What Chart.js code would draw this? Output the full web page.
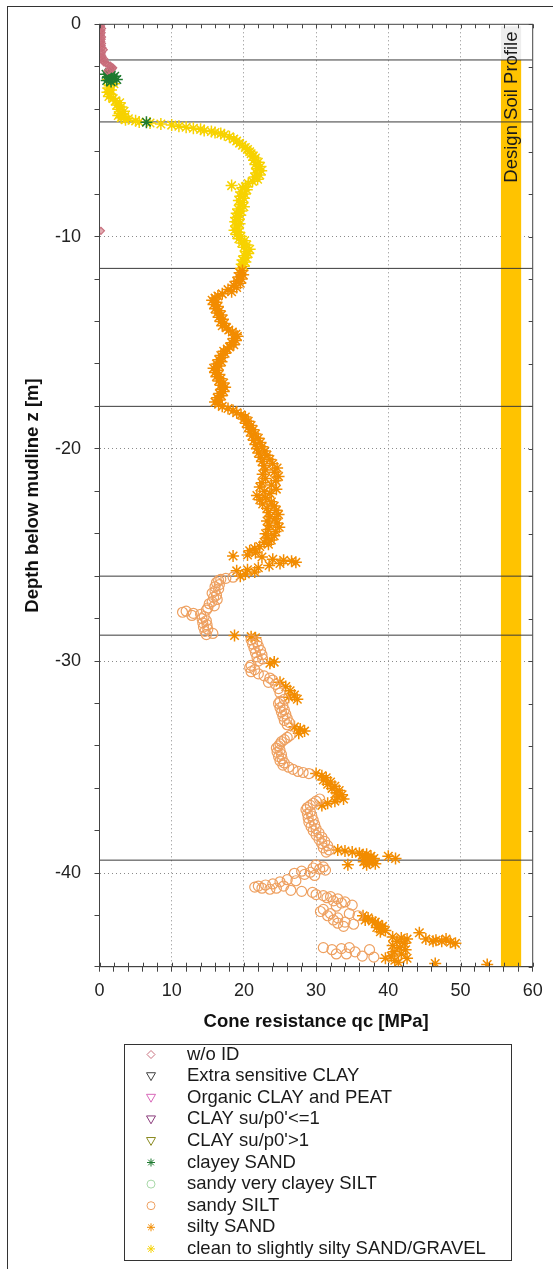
<!DOCTYPE html>
<html>
<head>
<meta charset="utf-8">
<script src="https://cdn.jsdelivr.net/npm/chart.js"></script>
<style>
  body { margin: 0; background: #fff; }
  #wrap { width: 553px; height: 1269px; position: relative; }
</style>
</head>
<body>
<div id="wrap"><canvas id="myChart"></canvas></div>
<script>
// soil classes, in legend order
const soilClasses = ['w/o ID', 'Extra sensitive CLAY', 'Organic CLAY and PEAT', "CLAY su/p0'<=1", "CLAY su/p0'>1",
	'clayey SAND', 'sandy very clayey SILT', 'sandy SILT', 'silty SAND', 'clean to slightly silty SAND/GRAVEL'];
const classColors = ['#c8707e', '#404040', '#d866b8', '#8a3a7a', '#8a8a20',
	'#1f7a30', '#a8d8a8', '#eea060', '#f28c00', '#f7d200'];
const classStyles = ['rectRot', 'triangle', 'triangle', 'triangle', 'triangle',
	'star', 'circle', 'circle', 'star', 'star'];

// [depth z (m), qc (MPa)]
const noId = [[0,0.3],[0.1,0.2],[0.2,0.35],[0.3,0.25],[0.4,0.3],[0.5,0.2],[0.6,0.35],[0.7,0.3],[0.8,0.25],[0.9,0.35],
	[1.0,0.3],[1.1,0.4],[1.2,0.6],[1.3,0.35],[1.4,0.3],[1.5,0.4],[1.6,0.35],[1.65,0.7],[1.7,0.45],[1.8,0.6],
	[1.85,0.9],[1.9,1.2],[1.95,1.5],[2.0,1.7],[2.05,1.9],[2.1,1.8],[2.15,1.4],[2.2,1.1],[9.73,0.2]];
const extraSensitiveClay = [];
const organicClay = [];
const claySoft = [];
const clayStiff = [];
const clayeySand = [[2.3,1.3],[2.35,0.9],[2.4,1.6],[2.45,2.1],[2.5,1.2],[2.55,1.8],[2.6,2.4],[2.65,1.0],[2.7,1.6],[4.61,6.5]];
const sandyClayeySilt = [];
const sandySilt = [
	[26.05,18.5],[26.1,17.5],[26.15,16.8],[26.2,16.5],[26.3,16.2],[26.4,16.6],[26.5,16.0],[26.6,16.5],[26.7,16.0],[26.8,15.6],
	[26.9,16.2],[27.0,15.8],[27.1,16.3],[27.2,15.6],[27.3,15.2],[27.4,15.9],[27.5,15.0],[27.6,14.8],[27.65,12.0],[27.7,11.5],
	[27.75,13.0],[27.8,14.0],[27.85,12.8],[27.9,14.5],[28.0,14.2],[28.1,14.8],[28.2,14.3],[28.3,14.9],[28.4,14.4],[28.5,15.0],
	[28.6,14.6],[28.7,15.7],[28.75,14.8],
	[29.0,21.0],[29.1,21.8],[29.2,21.2],[29.3,22.0],[29.4,21.4],[29.5,22.3],[29.6,21.6],[29.7,22.5],[29.8,21.8],[29.9,22.6],
	[30.0,22.0],[30.2,21.0],[30.3,20.8],[30.4,21.5],[30.5,21.0],[30.6,22.0],[30.7,22.8],[30.8,23.6],[30.9,24.0],[31.0,23.4],
	[31.1,24.4],[31.3,24.8],[31.5,25.0],[31.8,25.6],[31.9,25.0],[32.0,24.8],[32.1,25.4],[32.2,25.0],[32.3,25.6],[32.4,25.2],
	[32.5,25.8],[32.6,25.4],[32.7,26.0],[32.8,25.6],[32.9,26.3],[33.0,26.0],[33.5,26.4],[33.6,26.0],[33.7,25.6],[33.8,25.2],
	[33.9,25.0],[34.0,24.8],[34.1,24.5],[34.2,25.0],[34.3,24.6],[34.4,25.2],[34.5,24.8],[34.6,25.3],[34.7,25.0],[34.8,25.6],
	[34.9,25.4],[35.0,26.2],[35.1,26.8],[35.2,27.5],[35.25,28.2],[35.3,29.0],
	[36.5,30.5],[36.6,30.0],[36.7,29.6],[36.8,29.2],[36.9,28.8],[37.0,28.6],[37.1,29.2],[37.2,28.8],[37.3,29.4],[37.4,28.9],
	[37.5,29.6],[37.6,29.0],[37.7,29.8],[37.8,29.3],[37.9,30.0],[38.0,29.6],[38.1,30.4],[38.2,30.0],[38.3,30.8],[38.4,30.4],
	[38.5,31.2],[38.6,30.8],[38.7,31.6],[38.8,31.0],[38.9,31.8],[39.0,31.4],
	[39.6,30.0],[39.7,31.0],[39.75,29.6],[39.8,30.5],[39.85,31.3],[39.9,28.0],[39.95,29.2],[40.0,27.0],[40.05,28.4],[40.1,29.8],
	[40.3,26.0],[40.35,27.2],[40.4,25.0],[40.5,24.0],[40.55,23.0],[40.6,22.0],[40.65,21.5],[40.7,22.5],[40.75,23.6],[40.7,24.5],
	[40.6,25.5],[40.8,26.5],[40.85,28.0],[40.9,29.5],
	[41.0,30.0],[41.05,31.0],[41.1,32.0],[41.15,31.5],[41.2,33.0],[41.3,32.4],[41.35,34.0],[41.4,33.5],[41.5,35.0],[41.55,32.8],
	[41.7,31.0],[41.8,30.6],[41.9,32.0],[42.0,31.6],[42.1,33.0],[42.2,32.4],[42.3,34.0],[42.35,33.0],[42.4,35.2],[42.5,33.8],
	[41.9,34.6],[42.0,35.8],
	[43.5,31.0],[43.6,32.2],[43.55,33.5],[43.5,34.6],[43.7,35.4],[43.8,34.2],[43.9,36.4],[43.6,37.4],[43.95,38.0],[43.8,32.8]];
const siltySand = [
	[11.6,19.8],[11.7,19.4],[11.8,19.9],[11.9,19.3],[12.0,19.7],[12.1,19.0],[12.2,19.5],[12.3,18.6],[12.4,19.0],[12.5,17.8],
	[12.6,18.3],[12.7,17.0],[12.8,16.4],[12.9,16.0],[13.0,15.6],[13.1,16.2],[13.2,15.8],[13.3,16.4],[13.4,16.0],[13.5,16.6],
	[13.6,16.3],[13.7,16.9],[13.8,16.5],[13.9,17.1],[14.0,16.8],[14.1,17.3],[14.2,17.0],[14.3,17.6],[14.4,17.9],[14.5,18.4],
	[14.6,18.9],[14.7,19.1],[14.8,18.6],[14.9,18.9],[15.0,18.3],[15.1,18.6],[15.2,18.0],[15.3,17.7],[15.4,17.2],[15.5,17.4],
	[15.6,16.8],[15.7,17.0],[15.8,16.5],[15.9,16.9],[16.0,16.2],[16.1,16.6],[16.2,15.8],[16.3,16.3],[16.4,16.0],[16.5,16.6],
	[16.6,16.2],[16.7,16.8],[16.8,16.5],[16.9,17.2],[17.0,16.8],[17.1,17.4],[17.2,16.9],[17.3,17.2],[17.4,16.6],[17.5,16.9],
	[17.6,16.3],[17.7,16.6],[17.8,16.0],[17.9,16.5],[18.0,17.0],[18.1,17.8],[18.2,18.5],[18.3,19.0],[18.4,19.6],[18.5,20.2],
	[18.6,20.0],[18.7,20.6],[18.8,20.3],[18.9,21.0],[19.0,20.6],[19.1,21.3],[19.2,20.9],[19.3,21.6],[19.4,21.1],[19.5,22.0],
	[19.6,21.4],[19.7,22.3],[19.8,21.6],[19.9,22.5],[20.0,21.8],[20.1,22.9],[20.2,22.0],[20.3,23.2],[20.4,22.3],[20.5,23.6],
	[20.6,22.5],[20.7,24.0],[20.8,22.8],[20.9,24.6],[21.0,23.0],[21.1,24.2],[21.2,22.6],[21.3,24.8],[21.4,23.0],[21.5,24.4],
	[21.6,22.5],[21.7,23.8],[21.8,22.2],[21.9,24.5],[22.0,22.8],[22.1,23.6],[22.2,21.8],[22.3,23.0],[22.4,22.2],[22.5,23.8],
	[22.6,22.6],[22.7,24.2],[22.8,23.2],[22.9,24.5],[23.0,23.4],[23.1,24.8],[23.2,23.6],[23.3,24.3],[23.4,23.2],[23.5,24.6],
	[23.6,23.5],[23.7,24.9],[23.8,23.4],[23.9,24.4],[24.0,23.0],[24.1,24.2],[24.2,23.2],[24.3,23.8],[24.4,22.8],[24.5,23.4],
	[24.6,22.2],[24.7,21.5],[24.8,20.8],[24.9,21.6],[25.0,20.5],[25.05,18.5],[25.1,22.5],[25.2,24.0],[25.25,25.5],[25.3,26.6],
	[25.35,27.2],[25.4,25.0],[25.5,23.5],[25.6,22.0],[25.7,20.5],[25.75,19.0],[25.8,21.5],[25.9,20.2],[26.0,19.5],
	[28.8,18.7],[28.85,21.0],[28.9,21.6],[30.05,24.2],[30.1,23.6],[31.0,25.0],[31.2,25.8],[31.4,26.4],[31.6,27.0],[31.7,26.2],
	[31.8,27.4],[33.1,27.0],[33.2,27.8],[33.3,28.4],[33.4,27.6],
	[35.3,30.0],[35.4,30.8],[35.5,31.4],[35.6,31.0],[35.7,32.0],[35.8,31.6],[35.9,32.6],[36.0,32.2],[36.1,33.2],[36.2,32.8],
	[36.3,33.6],[36.4,33.0],[36.5,33.8],[36.6,32.6],[36.7,31.6],[36.8,30.8],
	[38.9,33.0],[38.95,34.0],[39.0,35.0],[39.05,36.0],[39.1,37.0],[39.15,36.4],[39.2,37.6],[39.25,36.8],[39.3,38.0],[39.35,37.2],
	[39.4,37.8],[39.45,36.6],[39.5,37.4],[39.55,38.2],[39.6,37.0],[39.2,40.0],[39.3,41.0],[39.6,34.4],
	[42.0,36.5],[42.1,37.2],[42.2,36.8],[42.25,37.8],[42.3,38.2],[42.4,38.6],[42.5,39.2],[42.55,38.4],[42.6,39.0],[42.7,39.6],
	[42.75,38.9],[42.8,44.3],[43.1,45.2],[43.0,40.6],[43.05,41.8],[43.1,42.6],[43.2,41.2],[43.15,46.6],[43.2,47.4],[43.1,48.0],
	[43.25,48.6],[43.3,49.3],[43.2,46.2],[43.3,42.2],
	[43.4,40.6],[43.5,41.6],[43.6,42.4],[43.7,40.8],[43.8,41.8],[43.9,40.4],[44.0,42.6],[44.1,40.9],[44.2,41.4],[44.25,46.5],
	[44.3,53.7],[44.0,39.6]];
const cleanSand = [
	[2.6,1.2],[2.7,1.6],[2.8,2.0],[2.9,1.4],[3.0,1.2],[3.1,1.6],[3.2,1.1],[3.3,1.5],[3.4,1.3],[3.5,1.9],
	[3.6,2.2],[3.7,2.8],[3.8,2.4],[3.9,3.0],[4.0,2.6],[4.1,3.4],[4.2,2.8],[4.3,2.6],[4.35,3.5],[4.4,3.0],
	[4.45,4.0],[4.5,3.6],[4.55,5.0],[4.6,5.5],[4.65,7.0],[4.7,8.5],[4.75,10.0],[4.8,11.0],[4.85,12.0],[4.9,13.0],
	[4.95,14.0],[5.0,14.5],[5.05,15.5],[5.1,16.0],[5.15,16.8],[5.2,17.3],[5.3,18.0],[5.4,18.6],[5.5,19.0],[5.6,19.4],
	[5.7,19.8],[5.8,20.2],[5.9,20.5],[6.0,20.8],[6.1,21.0],[6.2,21.3],[6.3,21.6],[6.4,21.4],[6.5,22.0],[6.6,21.6],
	[6.7,22.3],[6.8,21.8],[6.9,22.4],[7.0,21.7],[7.1,22.2],[7.2,21.5],[7.3,21.9],[7.4,21.2],[7.5,20.6],[7.6,18.3],
	[7.65,20.2],[7.7,19.8],[7.8,20.4],[7.9,19.6],[8.0,20.1],[8.1,19.5],[8.2,20.0],[8.3,19.3],[8.4,19.8],[8.5,19.5],
	[8.6,20.0],[8.7,19.2],[8.8,19.6],[8.9,19.0],[9.0,19.5],[9.1,18.9],[9.2,19.3],[9.3,18.8],[9.4,19.4],[9.5,18.9],
	[9.6,19.2],[9.7,18.7],[9.8,19.3],[9.9,19.0],[10.0,19.6],[10.1,19.3],[10.2,20.1],[10.3,19.7],[10.4,20.4],[10.5,20.0],
	[10.6,20.8],[10.7,20.3],[10.8,20.6],[10.9,20.1],[11.0,20.3],[11.1,19.8],[11.2,20.2],[11.3,19.7],[11.4,20.0],[11.5,19.6]];

const classData = [noId, extraSensitiveClay, organicClay, claySoft, clayStiff,
	clayeySand, sandyClayeySilt, sandySilt, siltySand, cleanSand];

// layer boundaries of the design soil profile (depth m)
const layerDepths = [1.68, 4.6, 11.5, 18.0, 26.0, 28.78, 39.38];
// design soil profile column: qc range and depth where it starts
const profileQc = [55.6, 58.4];
const profileTop = 1.68;

const xTicks = [0, 10, 20, 30, 40, 50, 60];
const yTicks = [0, -10, -20, -30, -40];

const FONT = "'Liberation Sans', Arial, sans-serif";

function drawMarker(ctx, style, x, y, r) {
	ctx.beginPath();
	if (style === 'rectRot') {
		ctx.moveTo(x, y - r); ctx.lineTo(x + r, y); ctx.lineTo(x, y + r); ctx.lineTo(x - r, y); ctx.closePath();
	} else if (style === 'triangle') {
		ctx.moveTo(x - r, y - r * 0.75); ctx.lineTo(x + r, y - r * 0.75); ctx.lineTo(x, y + r); ctx.closePath();
	} else if (style === 'circle') {
		ctx.arc(x, y, r, 0, Math.PI * 2);
	} else {
		const d = r * Math.SQRT1_2;
		ctx.moveTo(x - r, y); ctx.lineTo(x + r, y);
		ctx.moveTo(x, y - r); ctx.lineTo(x, y + r);
		ctx.moveTo(x - d, y - d); ctx.lineTo(x + d, y + d);
		ctx.moveTo(x - d, y + d); ctx.lineTo(x + d, y - d);
	}
	ctx.stroke();
}

const soilPlugin = {
	id: 'soil',
	beforeDatasetsDraw(chart) {
		const {ctx, scales: {x, y}} = chart;
		const x1 = x.getPixelForValue(profileQc[0]);
		const x2 = x.getPixelForValue(profileQc[1]);
		const yTop = y.getPixelForValue(0) + 2;
		const yBreak = y.getPixelForValue(-profileTop);
		const yBot = y.getPixelForValue(y.min);
		ctx.save();
		ctx.fillStyle = '#eeeeee';
		ctx.fillRect(x1, yTop, x2 - x1, yBreak - yTop);
		ctx.fillStyle = '#ffc300';
		ctx.fillRect(x1, yBreak, x2 - x1, yBot - yBreak);
		ctx.restore();
	},
	afterDatasetsDraw(chart) {
		const {ctx, chartArea: a, scales: {x, y}} = chart;
		ctx.save();
		// label of the profile column
		ctx.translate((x.getPixelForValue(profileQc[0]) + x.getPixelForValue(profileQc[1])) / 2 + 1, y.getPixelForValue(-3.9));
		ctx.rotate(-Math.PI / 2);
		ctx.fillStyle = '#1a1a1a';
		ctx.font = '18.5px ' + FONT;
		ctx.textAlign = 'center';
		ctx.textBaseline = 'middle';
		ctx.fillText('Design Soil Profile', 0, 0);
		ctx.restore();

		ctx.save();
		ctx.strokeStyle = '#444';
		ctx.lineWidth = 1;
		ctx.strokeRect(a.left, a.top, a.right - a.left, a.bottom - a.top);
		ctx.beginPath();
		x.ticks.forEach(t => {
			const px = Math.round(x.getPixelForValue(t.value)) + 0.5;
			ctx.moveTo(px, a.top); ctx.lineTo(px, a.top + 4);
			ctx.moveTo(px, a.bottom); ctx.lineTo(px, a.bottom - 4);
		});
		y.ticks.forEach(t => {
			const py = Math.round(y.getPixelForValue(t.value)) + 0.5;
			ctx.moveTo(a.right, py); ctx.lineTo(a.right - 4, py);
		});
		ctx.stroke();
		ctx.restore();
	},
	afterDraw(chart) {
		const {ctx} = chart;
		ctx.save();
		ctx.strokeStyle = '#333';
		ctx.lineWidth = 1;
		// outer frame
		ctx.strokeRect(7.5, 6.5, 700, 1400);
		// legend
		ctx.strokeRect(124.5, 1044.5, 387, 216);
		ctx.font = '18.5px ' + FONT;
		ctx.textBaseline = 'middle';
		ctx.textAlign = 'left';
		soilClasses.forEach((name, i) => {
			const ly = 1054.5 + i * 21.6;
			ctx.strokeStyle = classColors[i];
			ctx.lineWidth = 1;
			drawMarker(ctx, classStyles[i], 151, ly, classStyles[i] === 'triangle' ? 4.5 : 4);
			ctx.fillStyle = '#1a1a1a';
			ctx.fillText(name, 187, ly);
		});
		ctx.restore();
	}
};

function init() {
	const datasets = [];
	soilClasses.forEach((name, i) => {
		const st = classStyles[i];
		datasets.push({
			label: name,
			data: classData[i].map(p => ({x: p[1], y: -p[0]})),
			pointStyle: st,
			rotation: st === 'triangle' ? 180 : 0,
			pointRadius: st === 'star' ? 6 : (st === 'circle' ? 5 : 3.5),
			borderColor: classColors[i],
			backgroundColor: i === 0 ? 'rgba(200,100,112,0.55)' : 'rgba(255,255,255,0)',
			pointBorderWidth: st === 'star' ? 1.5 : 1.2,
			showLine: false
		});
	});
	layerDepths.forEach(d => {
		datasets.push({
			data: [{x: 0, y: -d}, {x: 60, y: -d}],
			showLine: true,
			borderColor: '#3a3a3a',
			borderWidth: 1,
			pointRadius: 0
		});
	});

	const ctx = document.getElementById('myChart').getContext('2d');
	new Chart(ctx, {
		type: 'scatter',
		data: {datasets: datasets},
		options: {
			responsive: true,
			maintainAspectRatio: false,
			animation: false,
			events: [],
			layout: {padding: {left: 17.9, top: 20, right: 20.3, bottom: 231.6}},
			plugins: {legend: {display: false}, tooltip: {enabled: false}},
			scales: {
				x: {
					type: 'linear',
					min: 0, max: 60,
					afterFit: s => { s.height = 70.7; },
					ticks: {
						stepSize: 2,
						padding: 8.2,
						color: '#222',
						font: {family: FONT, size: 18},
						maxRotation: 0,
						autoSkip: false,
						callback: v => xTicks.includes(v) ? v : ''
					},
					grid: {
						color: c => (c.tick && c.tick.value % 10 === 0 && c.tick.value > 0 && c.tick.value < 60) ? '#8a8a8a' : 'rgba(0,0,0,0)',
						tickColor: '#444',
						tickLength: 5
					},
					border: {display: true, color: '#444', dash: [1, 3]},
					title: {display: true, text: 'Cone resistance qc [MPa]', color: '#111',
						font: {family: FONT, size: 18.5, weight: 'bold'}}
				},
				y: {
					type: 'linear',
					min: -44.4, max: 0,
					afterFit: s => { s.width = 81.6; },
					ticks: {
						stepSize: 2,
						padding: 13.5,
						color: '#222',
						font: {family: FONT, size: 18},
						autoSkip: false,
						callback: v => yTicks.includes(v) ? v : ''
					},
					grid: {
						color: c => (c.tick && c.tick.value % 10 === 0 && c.tick.value < 0) ? '#8a8a8a' : 'rgba(0,0,0,0)',
						tickColor: '#444',
						tickLength: 5
					},
					border: {display: true, color: '#444', dash: [1, 3]},
					title: {display: true, text: 'Depth below mudline z [m]', color: '#111',
						font: {family: FONT, size: 18.5, weight: 'bold'}}
				}
			}
		},
		plugins: [soilPlugin]
	});
}

init()
</script>
</body>
</html>
